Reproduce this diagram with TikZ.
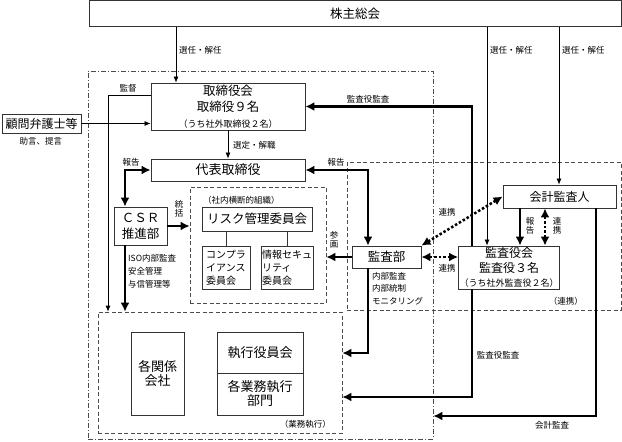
\documentclass[tikz,border=0pt]{standalone}
\usepackage{fontspec}
\setmainfont{Noto Sans CJK JP}
\usetikzlibrary{arrows.meta}
\begin{document}
\begin{tikzpicture}[x=1pt,y=-1pt,
  box/.style={draw=black!80,line width=0.8pt,fill=white,inner sep=1pt,align=center,font=\fontsize{12.5}{16}\selectfont},
  lbl/.style={font=\fontsize{8.5}{10}\selectfont,inner sep=0pt},
  vlbl/.style={font=\fontsize{8.5}{9.5}\selectfont,inner sep=0pt,align=center},
  frame/.style={draw=black!70,line width=0.7pt,dash pattern=on 4pt off 2.5pt,minimum width=#1},
  outer/.style={draw=black!70,line width=0.7pt,dash pattern=on 5pt off 2pt on 1pt off 2pt},
  thin/.style={line width=0.7pt,-{Latex[length=6pt,width=5pt]}},
  thick/.style={line width=2.2pt,-{Latex[length=9pt,width=9pt]}},
  both/.style={line width=2.2pt,{Latex[length=9pt,width=9pt]}-{Latex[length=9pt,width=9pt]}},
  link/.style={line width=2.5pt,dash pattern=on 2.5pt off 2pt,{Latex[length=9pt,width=9pt]}-{Latex[length=9pt,width=9pt]}}]
\useasboundingbox (0,0) rectangle (622,442);
% frames
\node[outer,minimum width=345,minimum height=368] (outerf) at (260.5,255) {};
\node[frame=136,minimum height=116] (riskf) at (258,245) {};
\node[frame=244,minimum height=121] (gyomuf) at (220,372.5) {};
\node[frame=274,minimum height=148] (renkeif) at (484,236) {};
\node[lbl,anchor=west] (riskt) at (203,200) {（社内横断的組織）};
\node[lbl,anchor=east] (gyomut) at (331,424) {（業務執行）};
\node[lbl,anchor=east] (renkeit) at (583,301) {（連携）};
% boxes
\node[box,minimum width=532,minimum height=26] (kabu) at (355,13.5) {株主総会};
\node[box,minimum width=154,minimum height=47] (tori) at (228,106.5)
  {取締役会\\取締役９名\\{\fontsize{9}{10}\selectfont（うち社外取締役２名）}};
\node[box,minimum width=79,minimum height=19,font=\fontsize{12}{14}\selectfont] (komon) at (41.5,123.5) {顧問弁護士等};
\node[box,minimum width=154,minimum height=22,font=\fontsize{13}{15}\selectfont] (daihyo) at (228,170) {代表取締役};
\node[box,minimum width=53,minimum height=38] (csr) at (140.5,226) {ＣＳＲ\\推進部};
\node[box,minimum width=110,minimum height=24] (risk) at (257,219) {リスク管理委員会};
\node[box,minimum width=48,minimum height=43,align=left,font=\fontsize{10}{13}\selectfont] (comp) at (226,267.5) {コンプラ\\イアンス\\委員会};
\node[box,minimum width=52,minimum height=43,align=left,font=\fontsize{10}{13}\selectfont] (joho) at (287,267.5) {情報セキュ\\リティ\\委員会};
\node[box,minimum width=69,minimum height=22] (kansabu) at (386.5,257) {監査部};
\node[box,minimum width=96,minimum height=43,font=\fontsize{12}{14.5}\selectfont] (kansayaku) at (509,267.5)
  {監査役会\\監査役３名\\{\fontsize{9}{10}\selectfont（うち社外監査役２名）}};
\node[box,minimum width=113,minimum height=23,font=\fontsize{12}{14}\selectfont] (kaikei) at (559.5,196.5) {会計監査人};
\node[box,minimum width=53,minimum height=83,font=\fontsize{13}{14}\selectfont] (kankei) at (157.5,373.5) {各関係\\会社};
\node[box,minimum width=86,minimum height=41,font=\fontsize{13}{14}\selectfont] (shikko) at (260,352.5) {執行役員会};
\node[box,minimum width=86,minimum height=42,font=\fontsize{13}{14}\selectfont] (kakubu) at (260,394) {各業務執行\\部門};
\draw[black!80,line width=0.8pt] (risk.south -| comp) -- (comp.north);
\draw[black!80,line width=0.8pt] (risk.south -| joho) -- (joho.north);
% lanes
\coordinate (xa) at (176,0);
\coordinate (xb) at (487,0);
\coordinate (xc) at (559,0);
\coordinate (kantoku) at (108,95);
\coordinate (hokoku) at (125,170);
\coordinate (xe) at (368,353);
\coordinate (xf) at (520,0);
\coordinate (xg) at (545,0);
\coordinate (xh) at (472,397);
\coordinate (xi) at (596,416);
% connectors
\draw[thin] (kabu.south -| xa) -- (tori.north -| xa);
\draw[thin] (kabu.south -| xb) -- (kansayaku.north -| xb);
\draw[thin] (kabu.south -| xc) -- (kaikei.north -| xc);
\draw[thin] (komon.east) -- (komon.east -| tori.west);
\draw[thin] (tori.west |- kantoku) -| (gyomuf.north -| kantoku);
\draw[thin] (tori.south) -- (daihyo.north);
\draw[both] (daihyo.west) -| (csr.north -| hokoku);
\draw[thick] (csr.east) -- (csr.east -| riskf.west);
\draw[thick] (csr.south -| hokoku) -- (gyomuf.north -| hokoku);
\draw[thick] (kansabu.west) -- (kansabu.west -| riskf.east);
\draw[both] (kansabu.north -| xe) |- (daihyo.east);
\draw[thick] (kansabu.south -| xe) |- (gyomuf.east |- xe);
\draw[link] (kansabu.east) -- (kansayaku.west |- kansabu.east);
\draw[link] (kaikei.west) -- (kansabu.north east);
\draw[thick] (kaikei.south -| xf) -- (kansayaku.north -| xf);
\draw[link] (kaikei.south -| xg) -- (kansayaku.north -| xg);
\draw[thick] (kansayaku.north -| xh) |- (tori.east);
\draw[thick] (kansayaku.south -| xh) |- (gyomuf.east |- xh);
\draw[thick] (kaikei.south -| xi) |- (outerf.east |- xi);
% labels
\node[lbl,anchor=west] (l1) at (179,50) {選任・解任};
\node[lbl,anchor=west] (l2) at (490,50) {選任・解任};
\node[lbl,anchor=west] (l3) at (562,50) {選任・解任};
\node[lbl] (l4) at (128,88) {監督};
\node[lbl] (l5) at (41,141) {助言、提言};
\node[lbl,anchor=west] (l6) at (233,145) {選定・解職};
\node[lbl] (l7) at (131,162) {報告};
\node[lbl] (l8) at (336,162) {報告};
\node[lbl] (l9) at (368,99) {監査役監査};
\node[vlbl] (l10) at (179,209) {統\\括};
\node[lbl,anchor=north west,align=left,font=\fontsize{8.5}{13}\selectfont] (l11) at (128,254) {ISO内部監査\\安全管理\\与信管理等};
\node[vlbl] (l12) at (334,240) {参\\画};
\node[lbl] (l13) at (447,212) {連携};
\node[lbl] (l14) at (447,268) {連携};
\node[vlbl] (l15) at (530,226) {報\\告};
\node[vlbl] (l16) at (557,226) {連\\携};
\node[lbl,anchor=north west,align=left,font=\fontsize{8.5}{12.5}\selectfont] (l17) at (372,272) {内部監査\\内部統制\\モニタリング};
\node[lbl] (l18) at (498,355) {監査役監査};
\node[lbl] (l19) at (552,425) {会計監査};
\end{tikzpicture}
\end{document}
